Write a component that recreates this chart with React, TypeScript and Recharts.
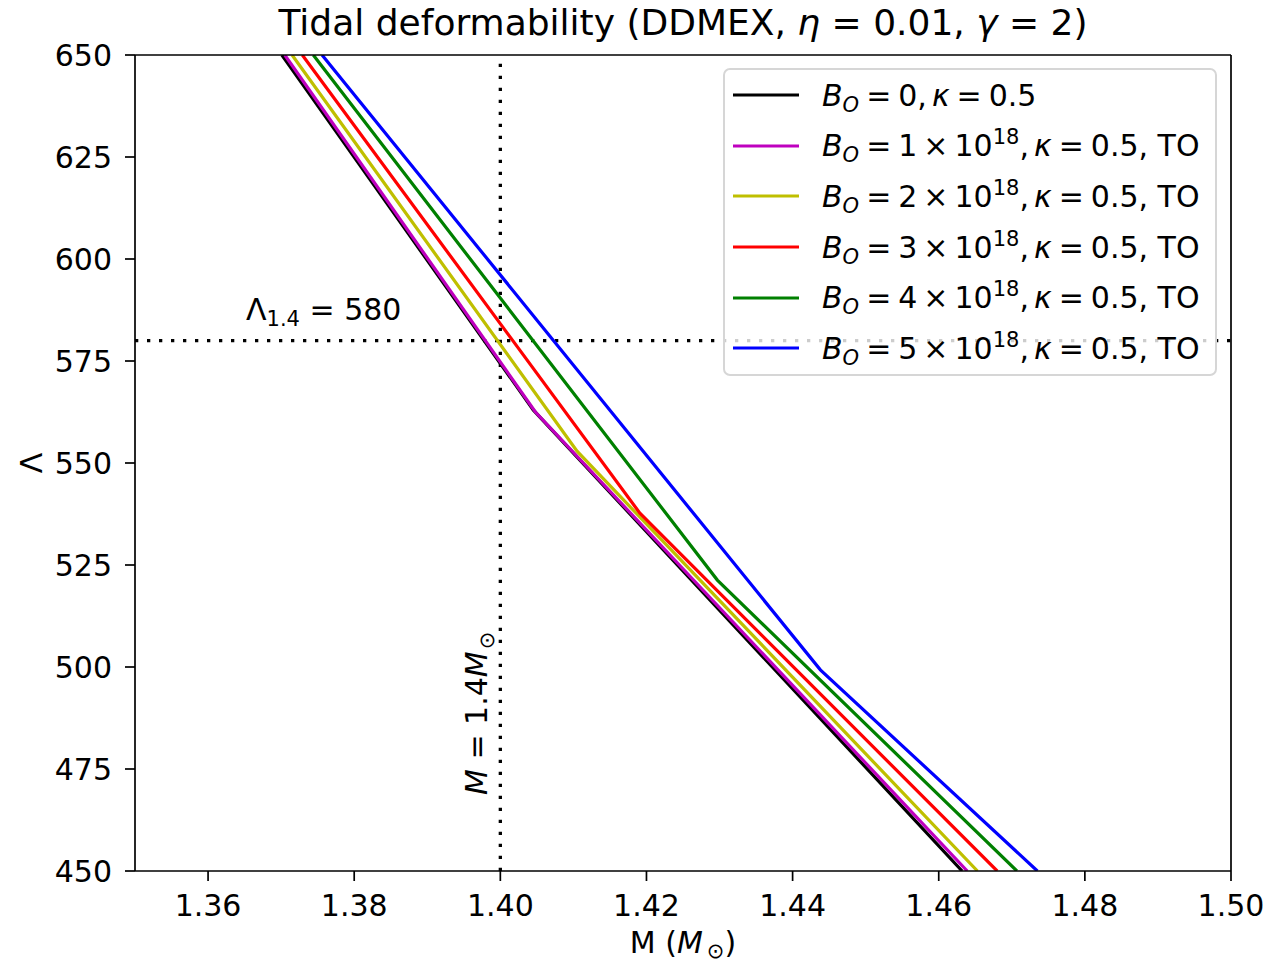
import React from 'react';
import { LineChart, Line, XAxis, YAxis, ReferenceLine, Legend } from 'recharts';

// ---- data ----
const xTicks = [1.36, 1.38, 1.4, 1.42, 1.44, 1.46, 1.48, 1.5];
const yTicks = [450, 475, 500, 525, 550, 575, 600, 625, 650];

const massB0 = [1.3701, 1.4045, 1.4632];
const lambdaB0 = [650, 563.0, 450];
const massB1 = [1.3705, 1.4048, 1.4639];
const lambdaB1 = [650, 562.5, 450];
const massB2 = [1.3715, 1.4105, 1.4653];
const lambdaB2 = [650, 552.9, 450];
const massB3 = [1.3729, 1.4191, 1.468];
const lambdaB3 = [650, 537.7, 450];
const massB4 = [1.3744, 1.4297, 1.4707];
const lambdaB4 = [650, 521.3, 450];
const massB5 = [1.3756, 1.4438, 1.4735];
const lambdaB5 = [650, 499.3, 450];

const seriesNames = ['B0', 'B1', 'B2', 'B3', 'B4', 'B5'];
const seriesCoeffs = ['0', '1', '2', '3', '4', '5'];
const seriesColors = ['#000000', '#bf00bf', '#bfbf00', '#ff0000', '#008000', '#0000ff'];
const seriesMass = [massB0, massB1, massB2, massB3, massB4, massB5];
const seriesLambda = [lambdaB0, lambdaB1, lambdaB2, lambdaB3, lambdaB4, lambdaB5];

const refMass = 1.4;
const refLambda = 580;

const FONT = '"DejaVu Sans", sans-serif';

const seriesData = seriesMass.map((ms, i) =>
  ms.map((m, j) => ({ m, lambda: seriesLambda[i][j] }))
);

const Op = ({ s, gap }: { s: string; gap: number }) => (
  <span style={{ margin: `0 ${gap}px` }}>{s}</span>
);

const LegendLabel = ({ coef }: { coef: string }) => (
  <span style={{ whiteSpace: 'nowrap', lineHeight: 1 }}>
    <i>B</i>
    <span style={{ fontStyle: 'italic', fontSize: 21, position: 'relative', top: 6 }}>O</span>
    <Op s="=" gap={7} />
    {coef === '0' ? (
      '0'
    ) : (
      <>
        {coef}
        <Op s="×" gap={6} />
        10
        <span style={{ fontSize: 21, position: 'relative', top: -12 }}>18</span>
      </>
    )}
    <span style={{ marginRight: 5 }}>,</span>
    <i>κ</i>
    <Op s="=" gap={7} />
    0.5
    {coef !== '0' ? ', TO' : ''}
  </span>
);

const renderLegend = (props: any) => {
  const payload = props.payload || [];
  return (
    <div
      style={{
        boxSizing: 'border-box',
        width: 494,
        height: 308,
        border: '2px solid #d6d6d6',
        borderRadius: 7,
        background: 'rgba(255,255,255,0.8)',
        padding: '0 0 0 8px',
        fontFamily: FONT,
        fontSize: 30,
        color: '#000',
      }}
    >
      {payload.map((p: any) => {
        const idx = seriesNames.indexOf(p.value);
        return (
          <div key={p.value} style={{ display: 'flex', alignItems: 'center', height: 50.6 }}>
            <svg width={66} height={6} style={{ flex: 'none' }}>
              <line x1={0} y1={3} x2={66} y2={3} stroke={seriesColors[idx]} strokeWidth={3.2} />
            </svg>
            <span style={{ marginLeft: 23 }}>
              <LegendLabel coef={seriesCoeffs[idx]} />
            </span>
          </div>
        );
      })}
    </div>
  );
};

const TitleLabel = (props: any) => {
  const vb = props.viewBox || { x: 135, y: 0, width: 1096, height: 55 };
  return (
    <text x={vb.x + vb.width / 2} y={vb.y + 35} textAnchor="middle" fontSize={36} fontFamily={FONT} fill="#000">
      Tidal deformability (DDMEX, <tspan fontStyle="italic">η</tspan> = 0.01, <tspan fontStyle="italic">γ</tspan> = 2)
    </text>
  );
};

const XLabel = (props: any) => {
  const vb = props.viewBox || { x: 135, y: 871, width: 1096, height: 93 };
  return (
    <text x={vb.x + vb.width / 2} y={vb.y + 82} textAnchor="middle" fontSize={30} fontFamily={FONT} fill="#000">
      M (<tspan fontStyle="italic">M</tspan>
      <tspan dx={4} dy={5} fontSize={21}>⊙</tspan>
      <tspan dy={-5}>)</tspan>
    </text>
  );
};

const YLabel = (props: any) => {
  const vb = props.viewBox || { x: 0, y: 55, width: 135, height: 816 };
  const cx = vb.x + 31;
  const cy = vb.y + vb.height / 2;
  return (
    <text
      x={cx}
      y={cy}
      dy="0.36em"
      textAnchor="middle"
      fontSize={30}
      fontFamily={FONT}
      fill="#000"
      transform={`rotate(-90 ${cx} ${cy})`}
    >
      Λ
    </text>
  );
};

const HLineLabel = (props: any) => {
  const vb = props.viewBox || { x: 135, y: 340, width: 1096 };
  return (
    <text x={vb.x + 111} y={vb.y - 21} fontSize={30} fontFamily={FONT} fill="#000">
      Λ<tspan dy={6} fontSize={21}>1.4</tspan>
      <tspan dy={-6}> = 580</tspan>
    </text>
  );
};

const VLineLabel = (props: any) => {
  const vb = props.viewBox || { x: 500, y: 55, height: 816 };
  const x = vb.x - 13;
  const y = vb.y + vb.height - 76;
  return (
    <text x={x} y={y} fontSize={30} fontFamily={FONT} fill="#000" transform={`rotate(-90 ${x} ${y})`}>
      <tspan fontStyle="italic">M</tspan> = 1.4<tspan fontStyle="italic">M</tspan>
      <tspan dx={2} dy={7} fontSize={21}>⊙</tspan>
    </text>
  );
};

const tickStyle = { fontSize: 30, fill: '#000', fontFamily: FONT };
const spine = { stroke: '#000', strokeWidth: 1.7 };

export default function App() {
  return (
    <div style={{ position: 'absolute', left: 0, top: 0, background: '#fff' }}>
      <LineChart width={1271} height={964} margin={{ top: 0, right: 0, bottom: 0, left: 0 }}>
        <XAxis
          dataKey="m"
          type="number"
          domain={[1.35, 1.5]}
          allowDataOverflow
          ticks={xTicks}
          tickFormatter={(v: number) => v.toFixed(2)}
          height={93}
          tickSize={10}
          tickMargin={14}
          tick={tickStyle}
          tickLine={spine}
          axisLine={spine}
          label={(p: any) => <XLabel {...p} />}
        />
        <XAxis
          xAxisId="top"
          dataKey="m"
          type="number"
          orientation="top"
          domain={[1.35, 1.5]}
          allowDataOverflow
          height={55}
          tick={false}
          tickLine={false}
          axisLine={spine}
          label={(p: any) => <TitleLabel {...p} />}
        />
        <YAxis
          dataKey="lambda"
          type="number"
          domain={[450, 650]}
          allowDataOverflow
          ticks={yTicks}
          width={135}
          tickSize={10}
          tickMargin={13}
          tick={tickStyle}
          tickLine={spine}
          axisLine={spine}
          label={(p: any) => <YLabel {...p} />}
        />
        <YAxis
          yAxisId="right"
          orientation="right"
          type="number"
          domain={[450, 650]}
          allowDataOverflow
          width={40}
          tick={false}
          tickLine={false}
          axisLine={spine}
        />
        <ReferenceLine
          y={refLambda}
          stroke="#000"
          strokeWidth={3.3}
          strokeDasharray="3.3 8.7"
          label={(p: any) => <HLineLabel {...p} />}
        />
        <ReferenceLine
          x={refMass}
          stroke="#000"
          strokeWidth={3.3}
          strokeDasharray="3.3 8.7"
          label={(p: any) => <VLineLabel {...p} />}
        />
        {seriesData.map((d, i) => (
          <Line
            key={seriesNames[i]}
            name={seriesNames[i]}
            data={d}
            dataKey="lambda"
            stroke={seriesColors[i]}
            strokeWidth={3.2}
            dot={false}
            activeDot={false}
            isAnimationActive={false}
            type="linear"
          />
        ))}
        <Legend
          layout="vertical"
          align="center"
          verticalAlign="middle"
          content={renderLegend}
          wrapperStyle={{ left: 723, top: 68, width: 494, height: 308 }}
        />
      </LineChart>
    </div>
  );
}
